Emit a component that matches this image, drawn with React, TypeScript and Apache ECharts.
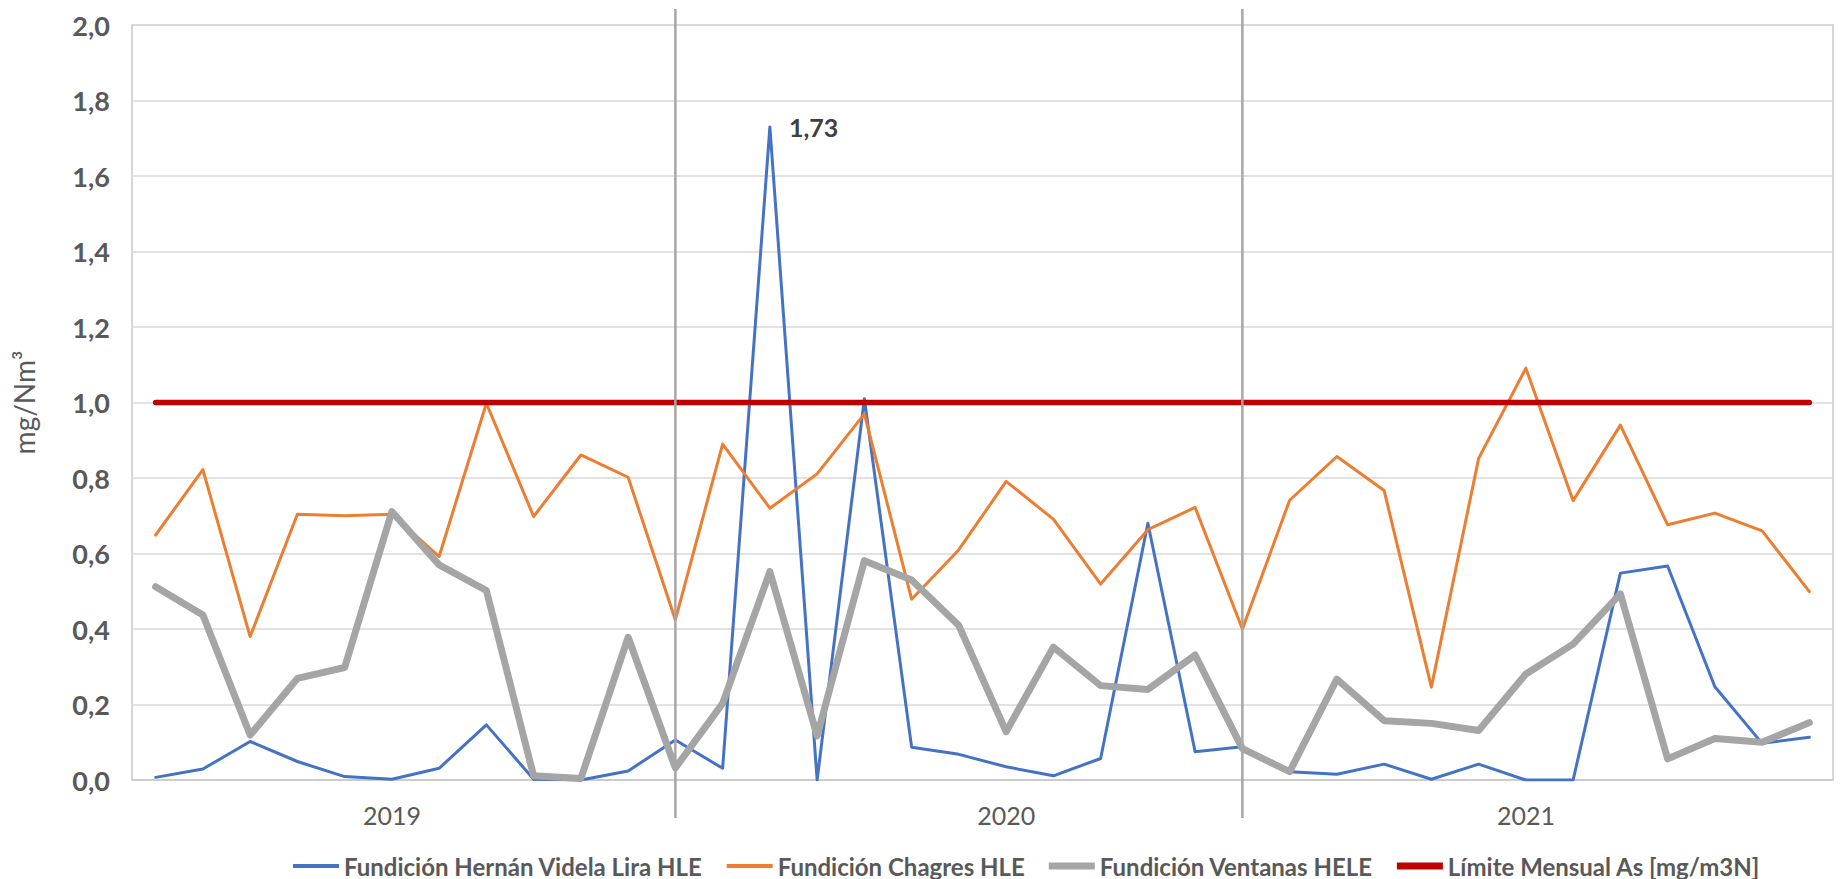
import React, { useEffect, useRef } from "react";
import * as echarts from "echarts";

const years = ["2019", "2020", "2021"];
const months = ["ene", "feb", "mar", "abr", "may", "jun", "jul", "ago", "sep", "oct", "nov", "dic"];
const categories: string[] = years.flatMap((y) => months.map((m) => `${m}-${y.slice(2)}`));

const yearLabelIndex = [5, 18, 29];
const dividerIndex = [11, 23];

const hvlData = [
  0.007, 0.029, 0.102, 0.049, 0.009, 0.002, 0.031, 0.146, 0.002, 0.0, 0.024, 0.106,
  0.031, 1.73, 0.0, 1.01, 0.087, 0.068, 0.035, 0.011, 0.057, 0.68, 0.075, 0.088,
  0.022, 0.015, 0.042, 0.002, 0.042, 0.0, 0.0, 0.548, 0.567, 0.247, 0.097, 0.113,
];
const chagresData = [
  0.649, 0.822, 0.38, 0.704, 0.7, 0.704, 0.592, 0.998, 0.698, 0.861, 0.802, 0.424,
  0.89, 0.72, 0.811, 0.97, 0.479, 0.61, 0.791, 0.691, 0.519, 0.663, 0.722, 0.4,
  0.741, 0.857, 0.767, 0.246, 0.852, 1.091, 0.74, 0.94, 0.676, 0.707, 0.66, 0.499,
];
const ventanasData = [
  0.512, 0.437, 0.119, 0.269, 0.298, 0.711, 0.57, 0.502, 0.011, 0.004, 0.378, 0.032,
  0.203, 0.552, 0.117, 0.581, 0.53, 0.409, 0.128, 0.352, 0.25, 0.24, 0.331, 0.083,
  0.022, 0.267, 0.157, 0.15, 0.131, 0.281, 0.36, 0.493, 0.056, 0.11, 0.1, 0.152,
];
const limiteData = [
  1, 1, 1, 1, 1, 1, 1, 1, 1, 1, 1, 1,
  1, 1, 1, 1, 1, 1, 1, 1, 1, 1, 1, 1,
  1, 1, 1, 1, 1, 1, 1, 1, 1, 1, 1, 1,
];
const labeledIndex = 13;

const seriesNames = [
  "Fundición Hernán Videla Lira HLE",
  "Fundición Chagres HLE",
  "Fundición Ventanas HELE",
  "Límite Mensual As [mg/m3N]",
];

const FONT = "Lato, 'Noto Sans', sans-serif";
const comma = (v: number, d: number) => v.toFixed(d).replace(".", ",");

export default function App() {
  const ref = useRef<HTMLDivElement>(null);
  useEffect(() => {
    if (!ref.current) return;
    const chart = echarts.init(ref.current, undefined, { renderer: "svg" });
    const lineBase = { type: "line" as const, symbol: "none", animation: false };
    chart.setOption({
      animation: false,
      backgroundColor: "#ffffff",
      textStyle: { fontFamily: FONT },
      grid: {
        left: 132,
        right: 8,
        top: 25,
        bottom: 99,
        show: true,
        borderColor: "#c9c9c9",
        borderWidth: 1.5,
      },
      legend: {
        left: 288,
        top: 849,
        itemWidth: 46,
        itemHeight: 24,
        itemGap: 24,
        textStyle: { fontFamily: FONT, fontSize: 24, fontWeight: "bold", color: "#595959" },
        data: [
          { name: seriesNames[0], icon: "path://M0,0H46V4H0Z" },
          { name: seriesNames[1], icon: "path://M0,0H46V4H0Z" },
          { name: seriesNames[2], icon: "path://M0,0H46V7H0Z" },
          { name: seriesNames[3], icon: "path://M0,0H46V7H0Z" },
        ],
      },
      xAxis: {
        type: "category",
        data: categories,
        boundaryGap: true,
        axisLine: { show: true, lineStyle: { color: "#c9c9c9", width: 1.5 } },
        axisTick: { show: false },
        axisLabel: {
          interval: (index: number) => yearLabelIndex.includes(index),
          formatter: (_v: string, index: number) => years[yearLabelIndex.indexOf(index)] ?? "",
          color: "#595959",
          fontFamily: FONT,
          fontSize: 25,
          margin: 22,
        },
        splitLine: { show: false },
      },
      yAxis: {
        type: "value",
        min: 0,
        max: 2,
        interval: 0.2,
        name: "mg/Nm³",
        nameLocation: "middle",
        nameRotate: 90,
        nameGap: 94,
        nameTextStyle: { color: "#595959", fontFamily: FONT, fontSize: 28 },
        axisLine: { show: false },
        axisTick: { show: false },
        axisLabel: {
          formatter: (v: number) => comma(v, 1),
          color: "#595959",
          fontFamily: FONT,
          fontSize: 27,
          fontWeight: "bold",
          margin: 22,
        },
        splitLine: { lineStyle: { color: "#d9d9d9", width: 1.5 } },
      },
      series: [
        {
          ...lineBase,
          name: seriesNames[0],
          data: hvlData,
          itemStyle: { color: "#4472C4" },
          lineStyle: { color: "#4472C4", width: 3, join: "round", cap: "round" },
          markPoint: {
            symbol: "circle",
            symbolSize: 2,
            itemStyle: { color: "rgba(0,0,0,0)" },
            label: {
              show: true,
              position: "right",
              distance: 18,
              formatter: (p: any) => comma(p.value, 2),
              fontFamily: FONT,
              fontSize: 25,
              fontWeight: "bold",
              color: "#404040",
            },
            data: [
              {
                coord: [categories[labeledIndex], hvlData[labeledIndex]],
                value: hvlData[labeledIndex],
              },
            ],
          },
          z: 2,
        },
        {
          ...lineBase,
          name: seriesNames[1],
          data: chagresData,
          itemStyle: { color: "#ED7D31" },
          lineStyle: { color: "#ED7D31", width: 3, join: "round", cap: "round" },
          z: 3,
        },
        {
          ...lineBase,
          name: seriesNames[2],
          data: ventanasData,
          itemStyle: { color: "#A5A5A5" },
          lineStyle: { color: "#A5A5A5", width: 7, join: "round", cap: "round" },
          z: 4,
        },
        {
          ...lineBase,
          name: seriesNames[3],
          data: limiteData,
          itemStyle: { color: "#C00000" },
          lineStyle: { color: "#C00000", width: 5.5, join: "round", cap: "round" },
          z: 5,
        },
      ],
    });
    const graphics = dividerIndex.map((idx) => {
      const x = chart.convertToPixel({ xAxisIndex: 0 }, categories[idx]) as number;
      return {
        type: "line",
        z: 10,
        shape: { x1: x, y1: 9, x2: x, y2: 818 },
        style: { stroke: "#a6a6a6", lineWidth: 2.5 },
      };
    });
    chart.setOption({ graphic: graphics });
    return () => chart.dispose();
  }, []);
  return (
    <div
      ref={ref}
      style={{ position: "fixed", left: 0, top: 0, width: 1841, height: 879 }}
    />
  );
}
